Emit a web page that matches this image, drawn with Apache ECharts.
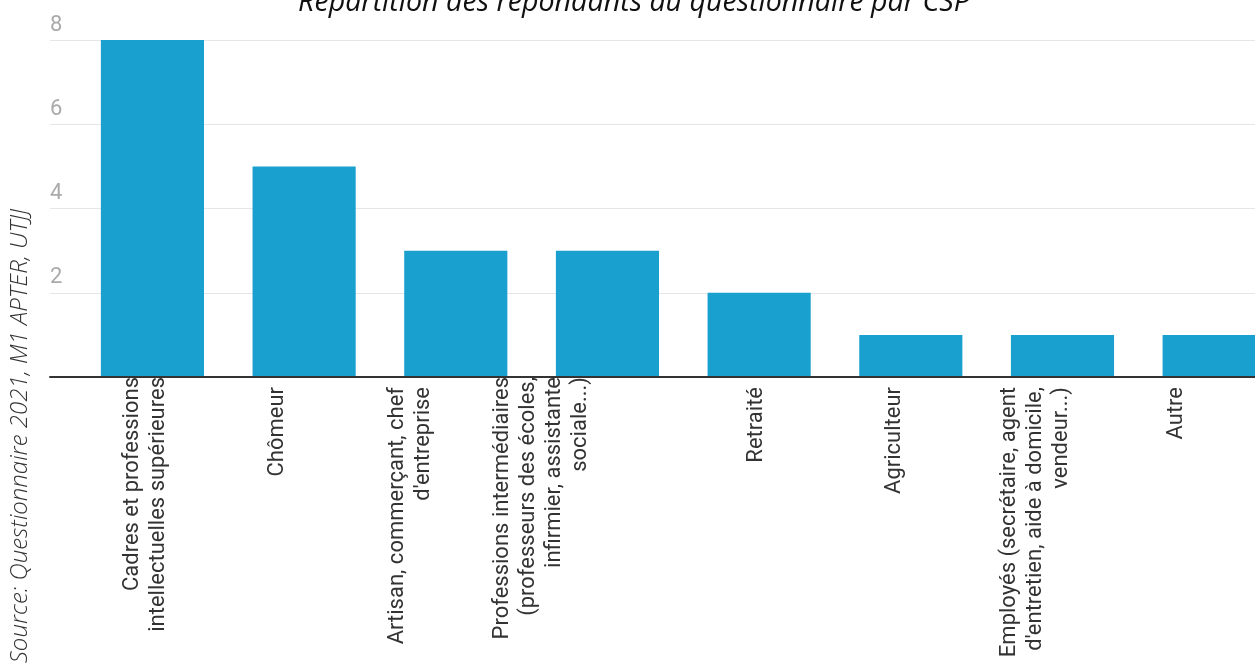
<!DOCTYPE html>
<html>
<head>
<meta charset="utf-8">
<script src="https://cdn.jsdelivr.net/npm/echarts@6/dist/echarts.min.js"></script>
<style>
  html, body { margin: 0; padding: 0; background: #fff; overflow: hidden; }
  /* the last bar runs past the right edge of the window */
  #chart { width: 1290px; height: 664px; }
</style>
</head>
<body>
<div id="chart"></div>
<script>
// Catégories socio-professionnelles (CSP) et nombre de répondants
const categories = [
  'Cadres et professions\nintellectuelles supérieures',
  'Chômeur',
  'Artisan, commerçant, chef\nd\'entreprise',
  'Professions intermédiaires\n(professeurs des écoles,\ninfirmier, assistante\nsociale...)',
  'Retraité',
  'Agriculteur',
  'Employés (secrétaire, agent\nd\'entretien, aide à domicile,\nvendeur...)',
  'Autre'
];
const respondents = [8, 5, 3, 3, 2, 1, 1, 1];
const yTicks = [0, 2, 4, 6, 8];

const titleText = 'Répartition des répondants au questionnaire par CSP';
const sourceText = 'Source: Questionnaire 2021, M1 APTER, UTJJ';

// label placement per category: shift to the left and gap below the axis (px)
const labelShift = [7, 27, 45, 66, 3, 16, 27, 38];
const labelGap = [0, 10, 10, 0, 10, 10, 10, 10];

const chart = echarts.init(document.getElementById('chart'), null, { renderer: 'canvas' });

const option = {
  animation: false,
  backgroundColor: '#ffffff',
  graphic: [
    {
      id: 'title',
      type: 'text',
      x: 634,
      y: 3,
      style: {
        text: titleText,
        font: 'italic 400 28.6px "Open Sans"',
        fill: '#111',
        align: 'center',
        verticalAlign: 'middle'
      }
    },
    {
      id: 'source',
      type: 'text',
      x: 20,
      y: 436,
      rotation: Math.PI / 2,
      style: {
        text: sourceText,
        font: 'italic 300 24px "Open Sans"',
        fill: '#333',
        align: 'center',
        verticalAlign: 'middle'
      }
    }
  ],
  grid: [
    { left: 50, right: 0, top: 40, bottom: 287 },
    { left: 76.6, right: 0, top: 40, bottom: 287 }
  ],
  xAxis: [
    {
      gridIndex: 0,
      type: 'value',
      min: 0, max: 1,
      z: 5,
      axisLine: { show: true, lineStyle: { color: '#333', width: 2 } },
      axisTick: { show: false },
      axisLabel: { show: false },
      splitLine: { show: false }
    },
    {
      gridIndex: 1,
      type: 'category',
      data: categories,
      axisLine: { show: false },
      axisTick: { show: false },
      axisLabel: { show: false },
      splitLine: { show: false }
    }
  ],
  yAxis: [
    {
      gridIndex: 0,
      type: 'value',
      min: 0, max: 8, interval: 2,
      axisLine: { show: false },
      axisTick: { show: false },
      axisLabel: {
        inside: true,
        margin: 0,
        fontFamily: 'Roboto',
        fontSize: 22,
        color: '#aaa',
        verticalAlign: 'bottom',
        padding: [0, 0, 4, 0],
        showMinLabel: false,
        formatter: v => (yTicks.includes(v) && v !== 0 ? String(v) : '')
      },
      splitLine: { show: true, lineStyle: { color: '#e6e6e6', width: 1 } }
    },
    {
      gridIndex: 1,
      type: 'value',
      min: 0, max: 8, interval: 2,
      show: false,
      splitLine: { show: false }
    }
  ],
  series: [
    {
      type: 'bar',
      xAxisIndex: 1,
      yAxisIndex: 1,
      data: respondents,
      barCategoryGap: '32%',
      itemStyle: { color: '#1aa0cf' }
    }
  ]
};

chart.setOption(option);

// category labels, rotated, placed from the axis scale
const categoryLabels = categories.map((name, i) => {
  const [cx, cy] = chart.convertToPixel({ xAxisIndex: 1, yAxisIndex: 1 }, [i, 0]);
  return {
    id: 'cat' + i,
    type: 'text',
    x: cx - labelShift[i],
    y: cy + labelGap[i],
    rotation: Math.PI / 2,
    z: 10,
    style: {
      text: name,
      font: '400 22px Roboto',
      lineHeight: 26,
      fill: '#333',
      align: 'right',
      verticalAlign: 'middle'
    }
  };
});
chart.setOption({ graphic: categoryLabels });
</script>
</body>
</html>
